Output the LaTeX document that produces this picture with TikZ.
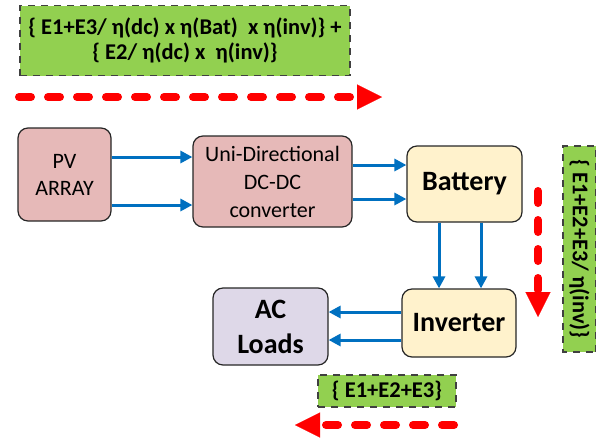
\documentclass[tikz,border=0pt]{standalone}
\usepackage{fontspec}
\setmainfont{Carlito}
\usepackage{tikz}
\usetikzlibrary{arrows.meta}
\definecolor{PVBoxColor}{RGB}{230,185,184}
\definecolor{BatBoxColor}{RGB}{255,242,204}
\definecolor{LoadBoxColor}{RGB}{222,216,232}
\definecolor{EqnColor}{RGB}{146,208,80}
\definecolor{FlowColor}{RGB}{0,112,192}
\definecolor{LossColor}{RGB}{255,0,0}

\begin{document}
\begin{tikzpicture}[x=1pt,y=-1pt,
 blk/.style n args={3}{draw=black!85,line width=1.2pt,fill=#1,minimum width=#2pt,minimum height=#3pt,rounded corners=10pt,rectangle,align=center,inner sep=0pt},
 eqn/.style={draw=black!75,line width=1.3pt,dash pattern=on 7pt off 6pt,fill=EqnColor,font=\bfseries\fontsize{22.5}{25}\selectfont,align=center,inner sep=0pt},
 flow/.style={FlowColor,line width=3pt,-{Triangle[length=12pt,width=12pt]}},
 loss/.style={LossColor,line width=8pt,line cap=round,dash pattern=on 12pt off 17pt,-{Triangle[length=25pt,width=25pt,line width=0.1pt]}}]
\useasboundingbox (0,0) rectangle (596,437);
% blocks
\node[blk={PVBoxColor}{93}{93},font=\fontsize{22}{27}\selectfont] (pv) at (64.5,174.5) {PV\\ARRAY};
\node[blk={PVBoxColor}{159}{91},font=\fontsize{22}{28}\selectfont] (conv) at (272.5,181.5) {Uni-Directional\\DC-DC\\converter};
\node[blk={BatBoxColor}{115}{76},font=\bfseries\fontsize{28}{34}\selectfont] (bat) at (464.5,184) {Battery};
\node[blk={BatBoxColor}{114}{68},font=\bfseries\fontsize{28}{34}\selectfont] (inv) at (459,323) {Inverter};
\node[blk={LoadBoxColor}{115}{77},font=\bfseries\fontsize{28}{35}\selectfont] (load) at (270.5,326.5) {AC\\Loads};
% energy terms
\node[eqn,minimum width=330pt,minimum height=70pt] (etop) at (185,40.5) {\{ E1+E3/ η(dc) x η(Bat)~ x η(inv)\} +\\\{ E2/ η(dc) x~ η(inv)\}};
\node[eqn,minimum width=206pt,minimum height=33pt,rotate=-90] (eright) at (579.5,249) {\{ E1+E2+E3/ η(inv)\}};
\node[eqn,minimum width=138pt,minimum height=32pt] (ebot) at (387,391) {\{ E1+E2+E3\}};
% power flow
\foreach \y in {157,205} {
   \draw[flow] (pv.east |- 0,\y) -- (conv.west |- 0,\y);
}
\foreach \y in {165,199} {
   \draw[flow] (conv.east |- 0,\y) -- (bat.west |- 0,\y);
}
\foreach \x in {439,481} {
   \draw[flow] (bat.south -| \x,0) -- (inv.north -| \x,0);
}
\foreach \y in {312,340} {
   \draw[flow] (inv.west |- 0,\y) -- (load.east |- 0,\y);
}
% loss arrows
\coordinate (ltop0) at (19,97);
\coordinate (ltop1) at (382,97);
\coordinate (lrgt0) at (538,191);
\coordinate (lrgt1) at (538,317);
\coordinate (lbot0) at (454,425);
\coordinate (lbot1) at (295,425);
\draw[loss] (ltop0) -- (ltop1);
\draw[loss] (lrgt0) -- (lrgt1);
\draw[loss] (lbot0) -- (lbot1);
\end{tikzpicture}
\end{document}
